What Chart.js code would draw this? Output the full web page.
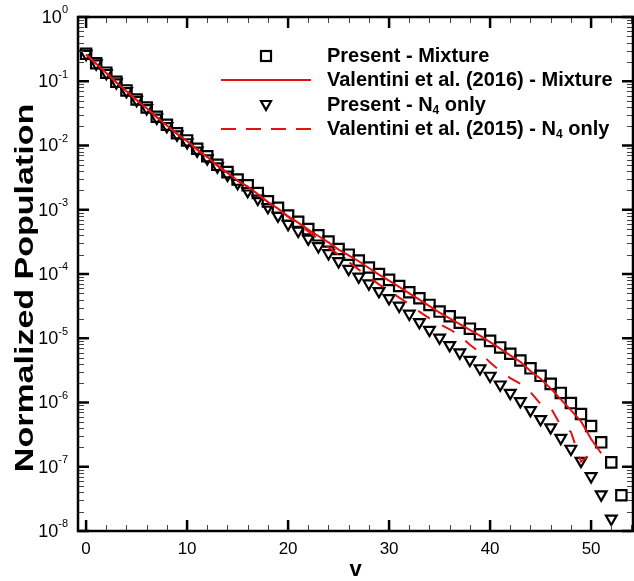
<!DOCTYPE html>
<html>
<head>
<meta charset="utf-8">
<script src="https://cdn.jsdelivr.net/npm/chart.js@4.4.1/dist/chart.umd.min.js"></script>
<style>
  html, body { margin: 0; padding: 0; background: #fff; }
  canvas { display: block; }
</style>
</head>
<body>
<canvas id="chart" width="634" height="581"></canvas>
<script>
// vibrational level v
const levels = [0, 1, 2, 3, 4, 5, 6, 7, 8, 9, 10, 11, 12, 13, 14, 15, 16, 17, 18, 19, 20,
    21, 22, 23, 24, 25, 26, 27, 28, 29, 30, 31, 32, 33, 34, 35, 36, 37, 38, 39, 40,
    41, 42, 43, 44, 45, 46, 47, 48, 49, 50, 51, 52, 53];

// Present - Mixture (squares), v = 0..53
const presentMixture = [2.67e-1, 1.91e-1, 1.36e-1, 9.8e-2, 7.2e-2, 5.2e-2, 3.9e-2, 2.8e-2, 2.1e-2, 1.55e-2,
    1.2e-2, 8.9e-3, 6.8e-3, 5.0e-3, 3.85e-3, 2.95e-3, 2.4e-3, 1.82e-3, 1.35e-3, 1.07e-3,
    8.1e-4, 6.5e-4, 5.0e-4, 4.0e-4, 3.2e-4, 2.45e-4, 2.0e-4, 1.62e-4, 1.26e-4, 1.0e-4,
    8.1e-5, 6.5e-5, 5.2e-5, 4.2e-5, 3.3e-5, 2.6e-5, 2.2e-5, 1.74e-5, 1.41e-5, 1.15e-5,
    9.1e-6, 7.2e-6, 5.75e-6, 4.5e-6, 3.4e-6, 2.6e-6, 1.95e-6, 1.41e-6, 9.8e-7, 6.6e-7,
    4.3e-7, 2.4e-7, 1.17e-7, 3.6e-8];

// Present - N4 only (triangles), v = 0..52
const presentN4 = [2.65e-1, 1.89e-1, 1.34e-1, 9.6e-2, 7.0e-2, 5.1e-2, 3.8e-2, 2.7e-2, 2.0e-2, 1.48e-2,
    1.12e-2, 8.3e-3, 6.3e-3, 4.7e-3, 3.5e-3, 2.6e-3, 1.95e-3, 1.48e-3, 1.10e-3, 8.1e-4,
    6.0e-4, 4.7e-4, 3.55e-4, 2.7e-4, 2.1e-4, 1.58e-4, 1.2e-4, 9.1e-5, 7.1e-5, 5.4e-5,
    4.2e-5, 3.2e-5, 2.4e-5, 1.78e-5, 1.35e-5, 1.02e-5, 7.8e-6, 6.0e-6, 4.6e-6, 3.4e-6,
    2.6e-6, 1.9e-6, 1.41e-6, 1.05e-6, 7.6e-7, 5.5e-7, 4.1e-7, 2.8e-7, 1.9e-7, 1.23e-7,
    7.1e-8, 3.7e-8, 1.55e-8];

// Valentini et al. (2016) - Mixture, v = 0..51
const valentini2016 = [2.6e-1, 1.88e-1, 1.34e-1, 9.6e-2, 7.0e-2, 5.1e-2, 3.8e-2, 2.75e-2, 2.05e-2, 1.52e-2,
    1.17e-2, 8.7e-3, 6.6e-3, 4.9e-3, 3.75e-3, 2.85e-3, 2.3e-3, 1.75e-3, 1.32e-3, 1.04e-3,
    7.9e-4, 6.3e-4, 4.9e-4, 3.9e-4, 3.1e-4, 2.4e-4, 1.95e-4, 1.58e-4, 1.24e-4, 9.8e-5,
    7.9e-5, 6.3e-5, 5.0e-5, 4.0e-5, 3.16e-5, 2.5e-5, 2.04e-5, 1.66e-5, 1.35e-5, 1.10e-5,
    8.7e-6, 6.9e-6, 5.4e-6, 4.3e-6, 3.1e-6, 2.35e-6, 1.66e-6, 1.12e-6, 7.6e-7, 5.1e-7,
    2.7e-7, 1.62e-7];

// Valentini et al. (2015) - N4 only, v = 0..50
const valentini2015 = [2.6e-1, 1.88e-1, 1.34e-1, 9.6e-2, 7.0e-2, 5.1e-2, 3.8e-2, 2.75e-2, 2.05e-2, 1.52e-2,
    1.16e-2, 8.6e-3, 6.5e-3, 4.85e-3, 3.7e-3, 2.8e-3, 2.3e-3, 1.74e-3, 1.32e-3, 1.0e-3,
    7.8e-4, 6.0e-4, 4.6e-4, 3.5e-4, 2.6e-4, 2.0e-4, 1.55e-4, 1.17e-4, 8.9e-5, 6.9e-5,
    5.5e-5, 4.3e-5, 3.4e-5, 2.6e-5, 2.04e-5, 1.66e-5, 1.38e-5, 1.10e-5, 7.9e-6, 6.0e-6,
    4.2e-6, 3.1e-6, 2.4e-6, 1.95e-6, 1.45e-6, 9.5e-7, 8.3e-7, 4.4e-7, 3.5e-7, 1.2e-7,
    1.62e-7];

const xTicks = [0, 10, 20, 30, 40, 50];
const yExponents = [0, -1, -2, -3, -4, -5, -6, -7, -8];

const legendLabels = [
    [{ t: 'Present - Mixture' }],
    [{ t: 'Valentini et al. (2016) - Mixture' }],
    [{ t: 'Present - N' }, { t: '4', sub: true }, { t: ' only' }],
    [{ t: 'Valentini et al. (2015) - N' }, { t: '4', sub: true }, { t: ' only' }]
];

const FONT = "'Liberation Sans', Arial, sans-serif";
const RED = 'rgb(226, 18, 18)';

function toPoints(values) {
    return values.map((y, i) => ({ x: levels[i], y: y }));
}

function line(ctx, x1, y1, x2, y2, width, color) {
    ctx.beginPath();
    ctx.lineWidth = width;
    ctx.strokeStyle = color;
    ctx.moveTo(x1, y1);
    ctx.lineTo(x2, y2);
    ctx.stroke();
}

// draws text pieces one after another, with sub/superscripts
function richText(ctx, parts, x, y, size, weight) {
    let cx = x;
    parts.forEach((p) => {
        let s = size, dy = 0;
        if (p.sub) { s = Math.round(size * 0.62); dy = size * 0.3; }
        if (p.sup) { s = Math.round(size * 0.62); dy = -size * 0.42; }
        ctx.font = `${weight} ${s}px ${FONT}`;
        ctx.fillText(p.t, cx, y + dy);
        cx += ctx.measureText(p.t).width;
    });
    return cx - x;
}

function richWidth(ctx, parts, size, weight) {
    let w = 0;
    parts.forEach((p) => {
        const s = (p.sub || p.sup) ? Math.round(size * 0.62) : size;
        ctx.font = `${weight} ${s}px ${FONT}`;
        w += ctx.measureText(p.t).width;
    });
    return w;
}

const framePlugin = {
    id: 'frame',
    afterDraw(chart) {
        const ctx = chart.ctx;
        const area = chart.chartArea;
        const xs = chart.scales.x;
        const ys = chart.scales.y;
        ctx.save();

        // minor ticks on x (every 2)
        for (let v = 2; v <= 54; v += 2) {
            if (v % 10 === 0) continue;
            const px = Math.round(xs.getPixelForValue(v)) + 0.5;
            line(ctx, px, area.bottom, px, area.bottom - 6, 1, '#444');
            line(ctx, px, area.top, px, area.top + 6, 1, '#444');
        }
        // major ticks on x
        xTicks.forEach((v) => {
            const px = xs.getPixelForValue(v);
            line(ctx, px, area.bottom, px, area.bottom - 11, 2.5, '#000');
            line(ctx, px, area.top, px, area.top + 11, 2.5, '#000');
        });
        // minor ticks on y
        for (let d = -8; d < 0; d++) {
            for (let k = 2; k <= 9; k++) {
                const py = Math.round(ys.getPixelForValue(k * Math.pow(10, d))) + 0.5;
                line(ctx, area.left, py, area.left + 6, py, 1, '#444');
                line(ctx, area.right, py, area.right - 6, py, 1, '#444');
            }
        }
        // major ticks on y
        yExponents.forEach((e) => {
            const py = ys.getPixelForValue(Math.pow(10, e));
            line(ctx, area.left, py, area.left + 11, py, 2.5, '#000');
            line(ctx, area.right, py, area.right - 11, py, 2.5, '#000');
        });

        // frame
        ctx.lineWidth = 2.5;
        ctx.strokeStyle = '#000';
        ctx.strokeRect(area.left, area.top, area.right - area.left, area.bottom - area.top);

        ctx.fillStyle = '#000';
        ctx.textBaseline = 'middle';

        // x tick labels
        ctx.textAlign = 'center';
        ctx.font = `17px ${FONT}`;
        xTicks.forEach((v) => {
            ctx.fillText(String(v), xs.getPixelForValue(v), area.bottom + 18);
        });

        // y tick labels, 10 with exponent
        ctx.textAlign = 'left';
        yExponents.forEach((e) => {
            const parts = [{ t: '10' }, { t: e === 0 ? '0' : '-' + Math.abs(e), sup: true }];
            const w = richWidth(ctx, parts, 18, 'normal');
            richText(ctx, parts, 68 - w, ys.getPixelForValue(Math.pow(10, e)) + 1, 18, 'normal');
        });

        // axis titles
        ctx.textAlign = 'center';
        ctx.font = `bold 22px ${FONT}`;
        ctx.fillText('v', (area.left + area.right) / 2, 570);
        ctx.save();
        ctx.translate(26, (area.top + area.bottom) / 2 + 14);
        ctx.rotate(-Math.PI / 2);
        ctx.scale(1.36, 1);
        ctx.font = `bold 25px ${FONT}`;
        ctx.fillText('Normalized Population', 0, 0);
        ctx.restore();

        // legend
        const rows = [56, 80, 105, 129];
        ctx.textAlign = 'left';
        legendLabels.forEach((parts, i) => {
            richText(ctx, parts, 327, rows[i], 20, 'bold');
        });
        // square marker
        ctx.lineWidth = 2.2;
        ctx.strokeStyle = '#000';
        ctx.strokeRect(261, rows[0] - 5, 10, 10);
        // solid line
        line(ctx, 221, rows[1], 311, rows[1], 2, RED);
        // triangle marker
        ctx.beginPath();
        ctx.moveTo(261, rows[2] - 4);
        ctx.lineTo(271, rows[2] - 4);
        ctx.lineTo(266, rows[2] + 5);
        ctx.closePath();
        ctx.lineWidth = 2.2;
        ctx.strokeStyle = '#000';
        ctx.stroke();
        // dashed line
        ctx.setLineDash([15, 10]);
        line(ctx, 221, rows[3], 311, rows[3], 2, RED);
        ctx.setLineDash([]);

        ctx.restore();
    }
};

new Chart(document.getElementById('chart'), {
    type: 'scatter',
    data: {
        datasets: [
            {
                label: 'Valentini et al. (2016) - Mixture',
                data: toPoints(valentini2016),
                showLine: true,
                borderColor: RED,
                borderWidth: 2,
                pointRadius: 0,
                order: 0
            },
            {
                label: 'Valentini et al. (2015) - N4 only',
                data: toPoints(valentini2015),
                showLine: true,
                borderColor: RED,
                borderWidth: 2,
                borderDash: [14, 14],
                pointRadius: 0,
                order: 0
            },
            {
                label: 'Present - Mixture',
                data: toPoints(presentMixture),
                showLine: false,
                pointStyle: 'rect',
                pointRadius: 7.3,
                pointBorderWidth: 2.2,
                pointBorderColor: '#000',
                pointBackgroundColor: 'rgba(0,0,0,0)',
                order: 1
            },
            {
                label: 'Present - N4 only',
                data: toPoints(presentN4),
                showLine: false,
                pointStyle: 'triangle',
                pointRotation: 180,
                pointRadius: 6.2,
                pointBorderWidth: 2.2,
                pointBorderColor: '#000',
                pointBackgroundColor: 'rgba(0,0,0,0)',
                order: 1
            }
        ]
    },
    options: {
        responsive: false,
        animation: false,
        devicePixelRatio: 1,
        clip: false,
        layout: {
            autoPadding: false,
            padding: { left: 78, right: 1, top: 17, bottom: 50 }
        },
        plugins: {
            legend: { display: false },
            tooltip: { enabled: false }
        },
        scales: {
            x: {
                type: 'linear',
                display: false,
                min: -0.8,
                max: 54.15
            },
            y: {
                type: 'logarithmic',
                display: false,
                min: 1e-8,
                max: 1
            }
        }
    },
    plugins: [framePlugin]
});
</script>
</body>
</html>
